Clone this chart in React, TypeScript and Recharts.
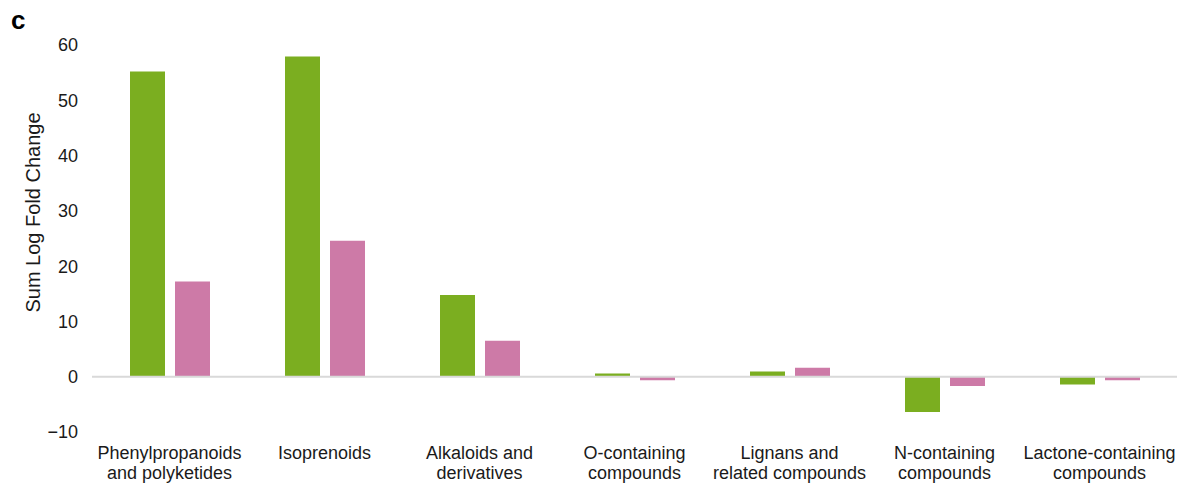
import { BarChart, Bar, XAxis, YAxis, ReferenceLine } from "recharts";

const categories = [
  "Phenylpropanoids and polyketides",
  "Isoprenoids",
  "Alkaloids and derivatives",
  "O-containing compounds",
  "Lignans and related compounds",
  "N-containing compounds",
  "Lactone-containing compounds",
];

// how each category name is broken over the two tick lines
const categoryLines = [
  ["Phenylpropanoids", "and polyketides"],
  ["Isoprenoids"],
  ["Alkaloids and", "derivatives"],
  ["O-containing", "compounds"],
  ["Lignans and", "related compounds"],
  ["N-containing", "compounds"],
  ["Lactone-containing", "compounds"],
];

const greenValues = [55.2, 57.9, 14.8, 0.6, 0.95, -6.4, -1.4];
const pinkValues = [17.2, 24.6, 6.5, -0.65, 1.6, -1.7, -0.65];

const yTicks = [-10, 0, 10, 20, 30, 40, 50, 60];

const data = categories.map((name, i) => ({
  name,
  green: greenValues[i],
  pink: pinkValues[i],
}));

const font = "Arial, 'Liberation Sans', sans-serif";

function CategoryTick({ x, y, payload }: any) {
  const idx = categories.indexOf(payload.value);
  const lines = categoryLines[idx] ?? [payload.value];
  return (
    <text x={x} y={y} textAnchor="middle" fontSize={18} fill="#1a1a1a" fontFamily={font}>
      {lines.map((line, i) => (
        <tspan key={i} x={x} dy={i === 0 ? 19 : 20}>
          {line}
        </tspan>
      ))}
    </text>
  );
}

export default function App() {
  return (
    <div style={{ position: "relative", width: 1179, height: 484, background: "#fff" }}>
      <style>{"body{margin:0}"}</style>
      <div
        style={{
          position: "absolute",
          left: 11,
          top: 5,
          fontFamily: font,
          fontWeight: "bold",
          fontSize: 26,
          lineHeight: "30px",
          color: "#000",
        }}
      >
        c
      </div>
      <BarChart
        width={1179}
        height={484}
        data={data}
        margin={{ top: 45, right: 2, left: 0, bottom: 0 }}
        barGap={10}
      >
        <XAxis
          dataKey="name"
          axisLine={false}
          tickLine={false}
          height={52}
          interval={0}
          tick={<CategoryTick />}
        />
        <YAxis
          width={92}
          domain={[-10, 60]}
          ticks={yTicks}
          axisLine={false}
          tickLine={false}
          tickMargin={8}
          tickFormatter={(v: number) => String(v).replace("-", "\u2212")}
          tick={{ fontSize: 18, fill: "#1a1a1a", fontFamily: font }}
          label={{
            value: "Sum Log Fold Change",
            angle: -90,
            position: "insideLeft",
            dx: 28,
            dy: -26,
            style: { textAnchor: "middle", fontSize: 20, fill: "#1a1a1a", fontFamily: font },
          }}
        />
        <ReferenceLine y={0} stroke="#d9d9d9" strokeWidth={2} />
        <Bar dataKey="green" fill="#7bae20" barSize={35} isAnimationActive={false} />
        <Bar dataKey="pink" fill="#cd7aa7" barSize={35} isAnimationActive={false} />
      </BarChart>
    </div>
  );
}
